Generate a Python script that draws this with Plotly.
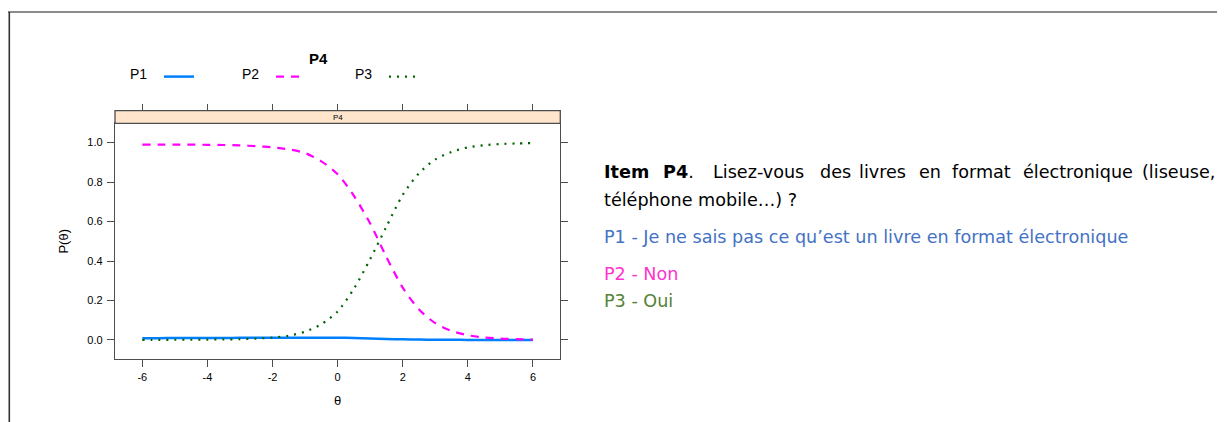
import plotly.graph_objects as go

# ---------------- data ----------------
theta = [-6, -5.5, -5, -4.5, -4, -3.5, -3, -2.5, -2, -1.5, -1, -0.5, 0,
         0.5, 1, 1.5, 2, 2.5, 3, 3.5, 4, 4.5, 5, 5.5, 6]
p1 = [0.009, 0.009, 0.010, 0.010, 0.010, 0.010, 0.011, 0.011, 0.011, 0.011, 0.011, 0.011, 0.011,
      0.010, 0.008, 0.005, 0.003, 0.002, 0.001, 0.001, 0.000, 0.000, 0.000, 0.000, 0.000]
p2 = [0.990, 0.990, 0.990, 0.990, 0.989, 0.988, 0.986, 0.982, 0.976, 0.966, 0.947, 0.905, 0.840,
      0.730, 0.590, 0.420, 0.265, 0.155, 0.085, 0.046, 0.024, 0.013, 0.007, 0.004, 0.002]
p3 = [0.000, 0.000, 0.001, 0.001, 0.002, 0.003, 0.004, 0.007, 0.012, 0.022, 0.042, 0.080, 0.145,
      0.260, 0.410, 0.575, 0.735, 0.845, 0.915, 0.953, 0.976, 0.987, 0.993, 0.996, 0.998]
series_names = ["P1", "P2", "P3"]
x_ticks = [-6, -4, -2, 0, 2, 4, 6]
x_ticklabels = ["-6", "-4", "-2", "0", "2", "4", "6"]
y_ticks = [0.0, 0.2, 0.4, 0.6, 0.8, 1.0]
y_ticklabels = ["0.0", "0.2", "0.4", "0.6", "0.8", "1.0"]
x_range = [-6.84, 6.84]
y_range = [-0.098, 1.098]

# ---------------- layout helpers (page px -> paper) ----------------
OX, OY = 8, 8            # default body margin of the html page
W, H = 1217, 414
def fx(px):
    return (px - OX) / W
def fy(py):
    return 1 - (py - OY) / H

colors = ["#0080ff", "#ff00ff", "#006400"]
dashes = ["solid", "8px,7px", "2px,6px"]
widths = [2.5, 2.2, 2.2]
axis_col = "#4d4d4d"
plot_font = "Liberation Sans, Arial, sans-serif"
text_font = "DejaVu Sans, Verdana, sans-serif"
text_size = 17.6
NBSP = "\u00a0"

fig = go.Figure()
legend_ids = ["legend", "legend2", "legend3"]
for vals, name, col, dash, w, lid in zip([p1, p2, p3], series_names, colors, dashes, widths, legend_ids):
    fig.add_trace(go.Scatter(
        x=theta, y=vals, mode="lines", name="",
        line=dict(color=col, width=w, dash=dash, shape="spline", smoothing=0.8),
        legend=lid, showlegend=True, hoverinfo="x+y",
    ))
# invisible copy on the top axis so that its ticks are drawn
fig.add_trace(go.Scatter(x=theta, y=p1, xaxis="x2", yaxis="y", mode="lines",
                         line=dict(width=0), opacity=0, showlegend=False, hoverinfo="skip"))

legend_x = [128, 240, 353]
legends = {}
for lid, nm, lx in zip(legend_ids, series_names, legend_x):
    legends[lid] = dict(
        x=fx(lx), xanchor="left", y=fy(77), yanchor="middle",
        orientation="h", bgcolor="rgba(0,0,0,0)", borderwidth=0,
        title=dict(text=nm + NBSP, side="left", font=dict(family=plot_font, size=14, color="#000")),
        font=dict(family=plot_font, size=14, color="#000"),
        itemwidth=30, tracegroupgap=0,
    )

axis_common = dict(
    ticks="outside", ticklen=7, tickwidth=1.1, tickcolor=axis_col,
    showline=True, linecolor=axis_col, linewidth=1.3,
    showgrid=False, zeroline=False,
    tickfont=dict(family=plot_font, size=11, color="#000"),
)

fig.update_layout(
    width=W, height=H,
    margin=dict(l=0, r=0, t=0, b=0),
    paper_bgcolor="white", plot_bgcolor="white",
    xaxis=dict(domain=[fx(115), fx(560.3)], range=x_range, tickvals=x_ticks, ticktext=x_ticklabels,
               mirror=True, anchor="y",
               title=dict(text="θ", font=dict(family=plot_font, size=13, color="#000"), standoff=14),
               **axis_common),
    yaxis=dict(domain=[fy(359.3), fy(123.3)], range=y_range, tickvals=y_ticks, ticktext=y_ticklabels,
               mirror="ticks", anchor="x", ticklabelstandoff=2,
               title=dict(text="P(θ)", font=dict(family=plot_font, size=13, color="#000"), standoff=15),
               **axis_common),
    xaxis2=dict(overlaying="x", anchor="free", position=fy(110.7), side="top",
                range=x_range, tickvals=x_ticks, showticklabels=False,
                ticks="outside", ticklen=7, tickwidth=1.1, tickcolor=axis_col,
                showline=False, showgrid=False, zeroline=False),
    showlegend=True,
    **legends,
)

# lattice strip
fig.add_shape(type="rect", xref="paper", yref="paper",
              x0=fx(115), x1=fx(560.3), y0=fy(123.3), y1=fy(110.7),
              fillcolor="#FFE5CC", line=dict(color=axis_col, width=1.3))
fig.add_annotation(text="P4", xref="paper", yref="paper", x=fx(337.6), y=fy(117),
                   xanchor="center", yanchor="middle", showarrow=False,
                   font=dict(family=plot_font, size=8, color="#000"))
# main title
fig.add_annotation(text="<b>P4</b>", xref="paper", yref="paper", x=fx(318.5), y=fy(58.5),
                   xanchor="center", yanchor="middle", showarrow=False,
                   font=dict(family=plot_font, size=15, color="#000"))

# outer frame
fig.add_shape(type="line", xref="paper", yref="paper", x0=fx(8), x1=1, y0=fy(12), y1=fy(12),
              line=dict(color="#666", width=1.3))
fig.add_shape(type="line", xref="paper", yref="paper", x0=fx(9.3), x1=fx(9.3), y0=fy(12), y1=0,
              line=dict(color="#333", width=1.6))

# right-hand description text (justified first line)
line1_words = ["<b>Item</b>", "<b>P4</b>.", "Lisez-vous", "des", "livres", "en", "format", "électronique"]
line1_x = [602, 660.5, 711, 817.5, 857, 916.5, 950, 1020.5]
for wd, px in zip(line1_words, line1_x):
    fig.add_annotation(text=wd, xref="paper", yref="paper", x=fx(px), y=fy(172),
                       xanchor="left", yanchor="middle", showarrow=False,
                       font=dict(family=text_font, size=text_size, color="#000"))
fig.add_annotation(text="(liseuse,", xref="paper", yref="paper", x=fx(1217), y=fy(172),
                   xanchor="right", yanchor="middle", showarrow=False,
                   font=dict(family=text_font, size=text_size, color="#000"))

other_lines = ["téléphone mobile…) ?",
               "P1 - Je ne sais pas ce qu’est un livre en format électronique",
               "P2 - Non",
               "P3 - Oui"]
other_y = [200, 237, 273.5, 301]
other_col = ["#000000", "#4472C4", "#FF33CC", "#548235"]
for t, py, c in zip(other_lines, other_y, other_col):
    fig.add_annotation(text=t, xref="paper", yref="paper", x=fx(602), y=fy(py),
                       xanchor="left", yanchor="middle", showarrow=False,
                       font=dict(family=text_font, size=text_size, color=c))

fig.write_html("out.html")
